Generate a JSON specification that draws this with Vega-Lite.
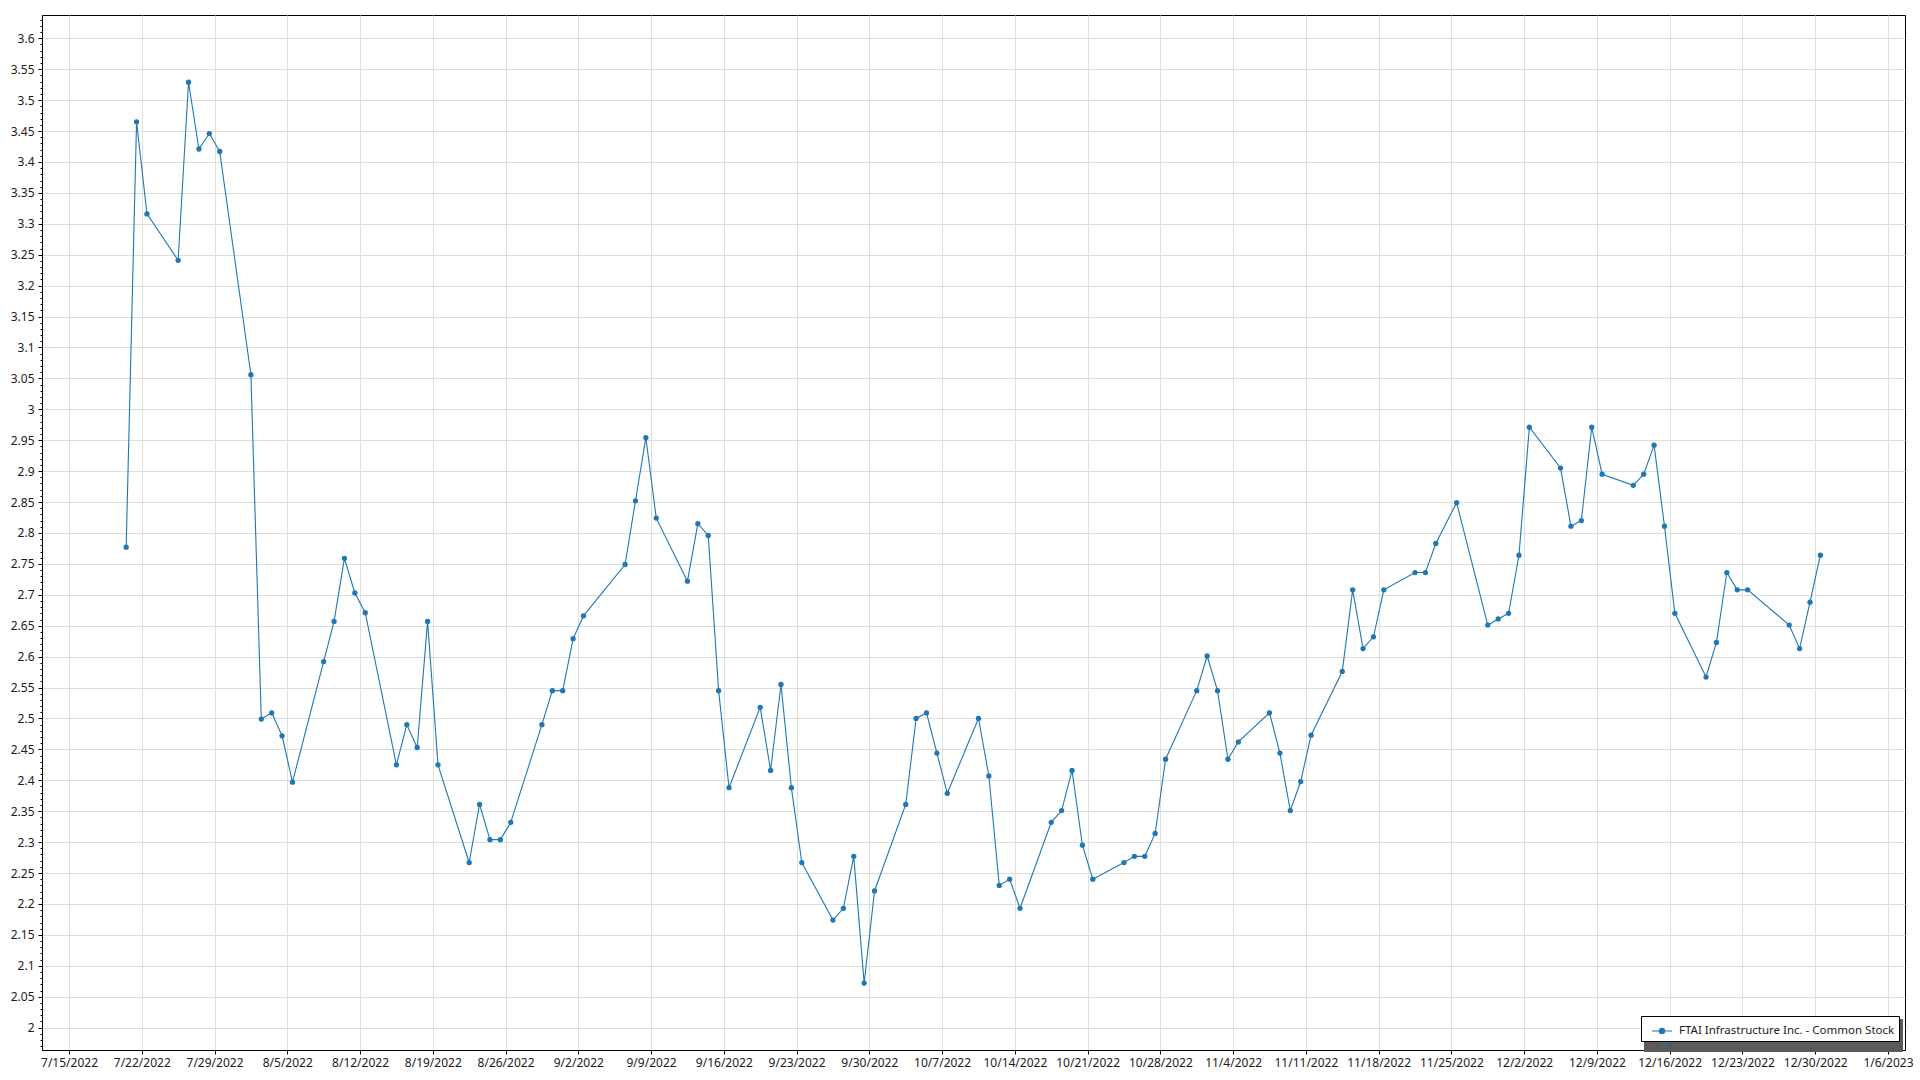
{
  "$schema": "https://vega.github.io/schema/vega-lite/v6.json",
  "width": 1863,
  "height": 1035,
  "autosize": "none",
  "padding": {"left": 42, "top": 15, "right": 15, "bottom": 30},
  "background": "white",
  "config": {
    "view": {"stroke": "black", "strokeWidth": 1},
    "font": "Noto Sans",
    "axis": {"labelFont": "Noto Sans", "labelFontSize": 12, "labelColor": "#1a1a1a", "domainColor": "black", "tickColor": "black", "gridColor": "#dedede", "gridWidth": 1}
  },
  "data": {"values": [
    {"date": "2022-07-20T12:00:00", "price": 2.777},
    {"date": "2022-07-21T12:00:00", "price": 3.465},
    {"date": "2022-07-22T12:00:00", "price": 3.316},
    {"date": "2022-07-25T12:00:00", "price": 3.241},
    {"date": "2022-07-26T12:00:00", "price": 3.529},
    {"date": "2022-07-27T12:00:00", "price": 3.421},
    {"date": "2022-07-28T12:00:00", "price": 3.446},
    {"date": "2022-07-29T12:00:00", "price": 3.417},
    {"date": "2022-08-01T12:00:00", "price": 3.056},
    {"date": "2022-08-02T12:00:00", "price": 2.499},
    {"date": "2022-08-03T12:00:00", "price": 2.509},
    {"date": "2022-08-04T12:00:00", "price": 2.472},
    {"date": "2022-08-05T12:00:00", "price": 2.397},
    {"date": "2022-08-08T12:00:00", "price": 2.592},
    {"date": "2022-08-09T12:00:00", "price": 2.657},
    {"date": "2022-08-10T12:00:00", "price": 2.759},
    {"date": "2022-08-11T12:00:00", "price": 2.703},
    {"date": "2022-08-12T12:00:00", "price": 2.671},
    {"date": "2022-08-15T12:00:00", "price": 2.425},
    {"date": "2022-08-16T12:00:00", "price": 2.490},
    {"date": "2022-08-17T12:00:00", "price": 2.453},
    {"date": "2022-08-18T12:00:00", "price": 2.657},
    {"date": "2022-08-19T12:00:00", "price": 2.425},
    {"date": "2022-08-22T12:00:00", "price": 2.267},
    {"date": "2022-08-23T12:00:00", "price": 2.361},
    {"date": "2022-08-24T12:00:00", "price": 2.304},
    {"date": "2022-08-25T12:00:00", "price": 2.304},
    {"date": "2022-08-26T12:00:00", "price": 2.332},
    {"date": "2022-08-29T12:00:00", "price": 2.490},
    {"date": "2022-08-30T12:00:00", "price": 2.545},
    {"date": "2022-08-31T12:00:00", "price": 2.545},
    {"date": "2022-09-01T12:00:00", "price": 2.629},
    {"date": "2022-09-02T12:00:00", "price": 2.666},
    {"date": "2022-09-06T12:00:00", "price": 2.749},
    {"date": "2022-09-07T12:00:00", "price": 2.852},
    {"date": "2022-09-08T12:00:00", "price": 2.954},
    {"date": "2022-09-09T12:00:00", "price": 2.824},
    {"date": "2022-09-12T12:00:00", "price": 2.722},
    {"date": "2022-09-13T12:00:00", "price": 2.815},
    {"date": "2022-09-14T12:00:00", "price": 2.796},
    {"date": "2022-09-15T12:00:00", "price": 2.545},
    {"date": "2022-09-16T12:00:00", "price": 2.388},
    {"date": "2022-09-19T12:00:00", "price": 2.518},
    {"date": "2022-09-20T12:00:00", "price": 2.416},
    {"date": "2022-09-21T12:00:00", "price": 2.555},
    {"date": "2022-09-22T12:00:00", "price": 2.388},
    {"date": "2022-09-23T12:00:00", "price": 2.267},
    {"date": "2022-09-26T12:00:00", "price": 2.174},
    {"date": "2022-09-27T12:00:00", "price": 2.193},
    {"date": "2022-09-28T12:00:00", "price": 2.277},
    {"date": "2022-09-29T12:00:00", "price": 2.072},
    {"date": "2022-09-30T12:00:00", "price": 2.221},
    {"date": "2022-10-03T12:00:00", "price": 2.361},
    {"date": "2022-10-04T12:00:00", "price": 2.500},
    {"date": "2022-10-05T12:00:00", "price": 2.509},
    {"date": "2022-10-06T12:00:00", "price": 2.444},
    {"date": "2022-10-07T12:00:00", "price": 2.379},
    {"date": "2022-10-10T12:00:00", "price": 2.500},
    {"date": "2022-10-11T12:00:00", "price": 2.407},
    {"date": "2022-10-12T12:00:00", "price": 2.230},
    {"date": "2022-10-13T12:00:00", "price": 2.240},
    {"date": "2022-10-14T12:00:00", "price": 2.193},
    {"date": "2022-10-17T12:00:00", "price": 2.332},
    {"date": "2022-10-18T12:00:00", "price": 2.351},
    {"date": "2022-10-19T12:00:00", "price": 2.416},
    {"date": "2022-10-20T12:00:00", "price": 2.295},
    {"date": "2022-10-21T12:00:00", "price": 2.240},
    {"date": "2022-10-24T12:00:00", "price": 2.267},
    {"date": "2022-10-25T12:00:00", "price": 2.277},
    {"date": "2022-10-26T12:00:00", "price": 2.277},
    {"date": "2022-10-27T12:00:00", "price": 2.314},
    {"date": "2022-10-28T12:00:00", "price": 2.434},
    {"date": "2022-10-31T12:00:00", "price": 2.545},
    {"date": "2022-11-01T12:00:00", "price": 2.601},
    {"date": "2022-11-02T12:00:00", "price": 2.545},
    {"date": "2022-11-03T12:00:00", "price": 2.434},
    {"date": "2022-11-04T12:00:00", "price": 2.462},
    {"date": "2022-11-07T12:00:00", "price": 2.509},
    {"date": "2022-11-08T12:00:00", "price": 2.444},
    {"date": "2022-11-09T12:00:00", "price": 2.351},
    {"date": "2022-11-10T12:00:00", "price": 2.398},
    {"date": "2022-11-11T12:00:00", "price": 2.473},
    {"date": "2022-11-14T12:00:00", "price": 2.576},
    {"date": "2022-11-15T12:00:00", "price": 2.708},
    {"date": "2022-11-16T12:00:00", "price": 2.613},
    {"date": "2022-11-17T12:00:00", "price": 2.632},
    {"date": "2022-11-18T12:00:00", "price": 2.708},
    {"date": "2022-11-21T12:00:00", "price": 2.736},
    {"date": "2022-11-22T12:00:00", "price": 2.736},
    {"date": "2022-11-23T12:00:00", "price": 2.783},
    {"date": "2022-11-25T12:00:00", "price": 2.849},
    {"date": "2022-11-28T12:00:00", "price": 2.651},
    {"date": "2022-11-29T12:00:00", "price": 2.661},
    {"date": "2022-11-30T12:00:00", "price": 2.670},
    {"date": "2022-12-01T12:00:00", "price": 2.764},
    {"date": "2022-12-02T12:00:00", "price": 2.971},
    {"date": "2022-12-05T12:00:00", "price": 2.905},
    {"date": "2022-12-06T12:00:00", "price": 2.811},
    {"date": "2022-12-07T12:00:00", "price": 2.820},
    {"date": "2022-12-08T12:00:00", "price": 2.971},
    {"date": "2022-12-09T12:00:00", "price": 2.895},
    {"date": "2022-12-12T12:00:00", "price": 2.877},
    {"date": "2022-12-13T12:00:00", "price": 2.895},
    {"date": "2022-12-14T12:00:00", "price": 2.942},
    {"date": "2022-12-15T12:00:00", "price": 2.811},
    {"date": "2022-12-16T12:00:00", "price": 2.670},
    {"date": "2022-12-19T12:00:00", "price": 2.567},
    {"date": "2022-12-20T12:00:00", "price": 2.623},
    {"date": "2022-12-21T12:00:00", "price": 2.736},
    {"date": "2022-12-22T12:00:00", "price": 2.708},
    {"date": "2022-12-23T12:00:00", "price": 2.708},
    {"date": "2022-12-27T12:00:00", "price": 2.651},
    {"date": "2022-12-28T12:00:00", "price": 2.613},
    {"date": "2022-12-29T12:00:00", "price": 2.688},
    {"date": "2022-12-30T12:00:00", "price": 2.764}
  ]},
  "encoding": {
    "x": {
      "field": "date", "type": "temporal",
      "scale": {"domain": ["2022-07-12T09:39:00", "2023-01-07T15:22:00"], "nice": false},
      "axis": {
        "title": null, "format": "%-m/%-d/%Y", "labelFlush": false, "labelOverlap": false,
        "tickSize": 4, "labelPadding": 3, "grid": true,
        "values": [
          {"year": 2022, "month": 7, "date": 15}, {"year": 2022, "month": 7, "date": 22}, {"year": 2022, "month": 7, "date": 29},
          {"year": 2022, "month": 8, "date": 5}, {"year": 2022, "month": 8, "date": 12}, {"year": 2022, "month": 8, "date": 19}, {"year": 2022, "month": 8, "date": 26},
          {"year": 2022, "month": 9, "date": 2}, {"year": 2022, "month": 9, "date": 9}, {"year": 2022, "month": 9, "date": 16}, {"year": 2022, "month": 9, "date": 23}, {"year": 2022, "month": 9, "date": 30},
          {"year": 2022, "month": 10, "date": 7}, {"year": 2022, "month": 10, "date": 14}, {"year": 2022, "month": 10, "date": 21}, {"year": 2022, "month": 10, "date": 28},
          {"year": 2022, "month": 11, "date": 4}, {"year": 2022, "month": 11, "date": 11}, {"year": 2022, "month": 11, "date": 18}, {"year": 2022, "month": 11, "date": 25},
          {"year": 2022, "month": 12, "date": 2}, {"year": 2022, "month": 12, "date": 9}, {"year": 2022, "month": 12, "date": 16}, {"year": 2022, "month": 12, "date": 23}, {"year": 2022, "month": 12, "date": 30},
          {"year": 2023, "month": 1, "date": 6}
        ]
      }
    },
    "color": {
      "datum": "FTAI Infrastructure Inc. - Common Stock",
      "scale": {"range": ["#1f77b4"]},
      "legend": {
        "title": null, "orient": "none", "legendX": 1599, "legendY": 1001, "zindex": 2,
        "strokeColor": "black", "fillColor": "white", "padding": 4,
        "symbolOffset": 6, "labelOffset": 6,
        "labelFont": "Noto Sans", "labelFontSize": 11.5, "labelColor": "#1a1a1a", "labelLimit": 400,
        "symbolType": "M-1,0L1,0M-0.26,0A0.26,0.26,0,1,1,0.26,0A0.26,0.26,0,1,1,-0.26,0Z",
        "symbolSize": 400, "symbolStrokeWidth": 1.2,
        "symbolFillColor": "#1f77b4", "symbolStrokeColor": "#1f77b4",
        "encode": {"symbols": {"update": {"fill": {"value": "#1f77b4"}, "stroke": {"value": "#1f77b4"}, "opacity": {"value": 1}}}}
      }
    }
  },
  "layer": [
    {
      "mark": {"type": "line", "strokeWidth": 1.1},
      "encoding": {
        "y": {
          "field": "price", "type": "quantitative",
          "scale": {"domain": [1.9638, 3.6377], "nice": false, "zero": false},
          "axis": {
            "title": null, "orient": "left", "format": "~g", "tickSize": 4, "labelPadding": 4,
            "labelFlush": false, "labelOverlap": false, "grid": true,
            "values": [2, 2.05, 2.1, 2.15, 2.2, 2.25, 2.3, 2.35, 2.4, 2.45, 2.5, 2.55, 2.6, 2.65, 2.7, 2.75, 2.8, 2.85, 2.9, 2.95, 3, 3.05, 3.1, 3.15, 3.2, 3.25, 3.3, 3.35, 3.4, 3.45, 3.5, 3.55, 3.6]
          }
        }
      }
    },
    {
      "mark": {"type": "point", "filled": true, "size": 28, "opacity": 1},
      "encoding": {
        "shape": {
          "datum": "shadow",
          "scale": {"range": ["circle"]},
          "legend": {
            "title": null, "orient": "none", "legendX": 1602, "legendY": 1004, "zindex": 1,
            "strokeColor": "#5a5a5a", "fillColor": "#5a5a5a", "padding": 4,
            "symbolOffset": 6, "labelOffset": 6,
            "labelFont": "Noto Sans", "labelFontSize": 11.5, "labelLimit": 400,
            "labelExpr": "'FTAI Infrastructure Inc. - Common Stock'",
            "symbolSize": 400,
            "encode": {"symbols": {"update": {"opacity": {"value": 0}}}, "labels": {"update": {"opacity": {"value": 0}}}}
          }
        },
        "y": {
          "field": "price", "type": "quantitative",
          "axis": {
            "title": null, "orient": "left", "labels": false, "grid": false, "domain": false, "tickSize": 2,
            "values": [1.97, 1.98, 1.99, 2, 2.01, 2.02, 2.03, 2.04, 2.05, 2.06, 2.07, 2.08, 2.09, 2.1, 2.11, 2.12, 2.13, 2.14, 2.15, 2.16, 2.17, 2.18, 2.19, 2.2, 2.21, 2.22, 2.23, 2.24, 2.25, 2.26, 2.27, 2.28, 2.29, 2.3, 2.31, 2.32, 2.33, 2.34, 2.35, 2.36, 2.37, 2.38, 2.39, 2.4, 2.41, 2.42, 2.43, 2.44, 2.45, 2.46, 2.47, 2.48, 2.49, 2.5, 2.51, 2.52, 2.53, 2.54, 2.55, 2.56, 2.57, 2.58, 2.59, 2.6, 2.61, 2.62, 2.63, 2.64, 2.65, 2.66, 2.67, 2.68, 2.69, 2.7, 2.71, 2.72, 2.73, 2.74, 2.75, 2.76, 2.77, 2.78, 2.79, 2.8, 2.81, 2.82, 2.83, 2.84, 2.85, 2.86, 2.87, 2.88, 2.89, 2.9, 2.91, 2.92, 2.93, 2.94, 2.95, 2.96, 2.97, 2.98, 2.99, 3, 3.01, 3.02, 3.03, 3.04, 3.05, 3.06, 3.07, 3.08, 3.09, 3.1, 3.11, 3.12, 3.13, 3.14, 3.15, 3.16, 3.17, 3.18, 3.19, 3.2, 3.21, 3.22, 3.23, 3.24, 3.25, 3.26, 3.27, 3.28, 3.29, 3.3, 3.31, 3.32, 3.33, 3.34, 3.35, 3.36, 3.37, 3.38, 3.39, 3.4, 3.41, 3.42, 3.43, 3.44, 3.45, 3.46, 3.47, 3.48, 3.49, 3.5, 3.51, 3.52, 3.53, 3.54, 3.55, 3.56, 3.57, 3.58, 3.59, 3.6, 3.61, 3.62, 3.63]
          }
        }
      }
    }
  ],
  "resolve": {"axis": {"y": "independent"}}
}
